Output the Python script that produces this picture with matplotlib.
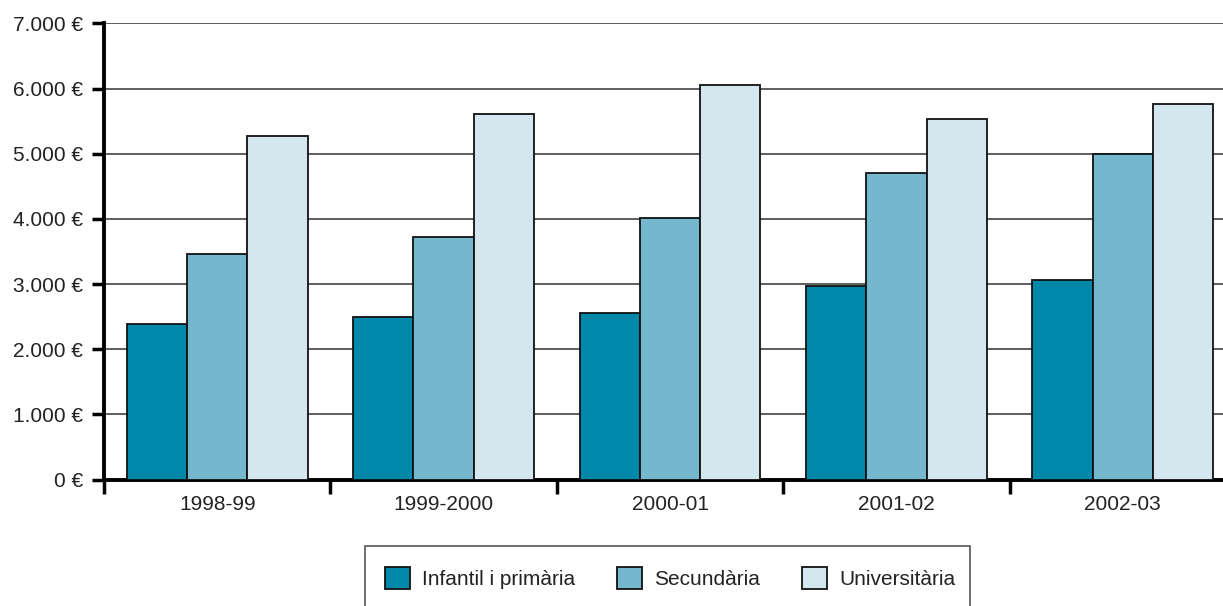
import numpy as np
import matplotlib
matplotlib.use('Agg')
import matplotlib.pyplot as plt
from matplotlib.patches import Rectangle

years = ['1998-99', '1999-2000', '2000-01', '2001-02', '2002-03']
series = ['Infantil i primària', 'Secundària', 'Universitària']
primaria = [2390, 2490, 2560, 2965, 3060]
secundaria = [3455, 3725, 4015, 4705, 4995]
universitaria = [5265, 5605, 6050, 5535, 5765]
colors = ['#0088ab', '#75b7cd', '#d4e7ee']

plt.rcParams['font.family'] = ['Liberation Sans', 'DejaVu Sans']
plt.rcParams['font.size'] = 15

W, H = 1223, 606
fig = plt.figure(figsize=(W / 100, H / 100), dpi=100)
ax = fig.add_axes([104 / W, 1 - 479.6 / H, (1236 - 104) / W, (479.6 - 23.4) / H])

x = np.arange(len(years))
bw = 0.266
for i, (vals, c) in enumerate(zip([primaria, secundaria, universitaria], colors)):
    ax.bar(x + (i - 1) * bw, vals, bw, color=c, edgecolor='#111111',
           linewidth=1.3, label=series[i], zorder=3)

ax.set_xlim(-0.5, len(years) - 0.5)
ax.set_ylim(0, 7000)
ax.set_yticks(np.arange(0, 7001, 1000))
ax.set_yticklabels([f'{v:,.0f} €'.replace(',', '.') for v in np.arange(0, 7001, 1000)],
                   color='#222222')
ax.yaxis.grid(True, color='#333333', linewidth=1.1, zorder=0)
ax.set_axisbelow(True)

ax.set_xticks(x)
ax.set_xticklabels(years, color='#222222')
ax.set_xticks(np.arange(-0.5, len(years), 1), minor=True)
ax.tick_params(axis='x', which='major', length=0, pad=11)
ax.tick_params(axis='x', which='minor', length=10, width=2.5, direction='out', color='black')
ax.tick_params(axis='y', length=9, width=2.5, direction='out', color='black', pad=6)

for s in ['top', 'right']:
    ax.spines[s].set_visible(False)
ax.spines['left'].set_linewidth(2.8)
ax.spines['bottom'].set_linewidth(2.8)

# legend box, open at the bottom of the image
fig.patches.append(Rectangle((365 / W, -0.05), (970 - 365) / W, 0.05 + (606 - 546) / H,
                             transform=fig.transFigure, fill=False,
                             edgecolor='#555555', linewidth=1.2))
leg = fig.legend(loc='center', bbox_to_anchor=(670 / W, 1 - 578 / H), ncol=3,
                 frameon=False, handlelength=1.2, handleheight=1.2,
                 columnspacing=2.0, handletextpad=0.6, fontsize=15)
for t in leg.get_texts():
    t.set_color('#222222')

fig.savefig('out.png', dpi=100)
